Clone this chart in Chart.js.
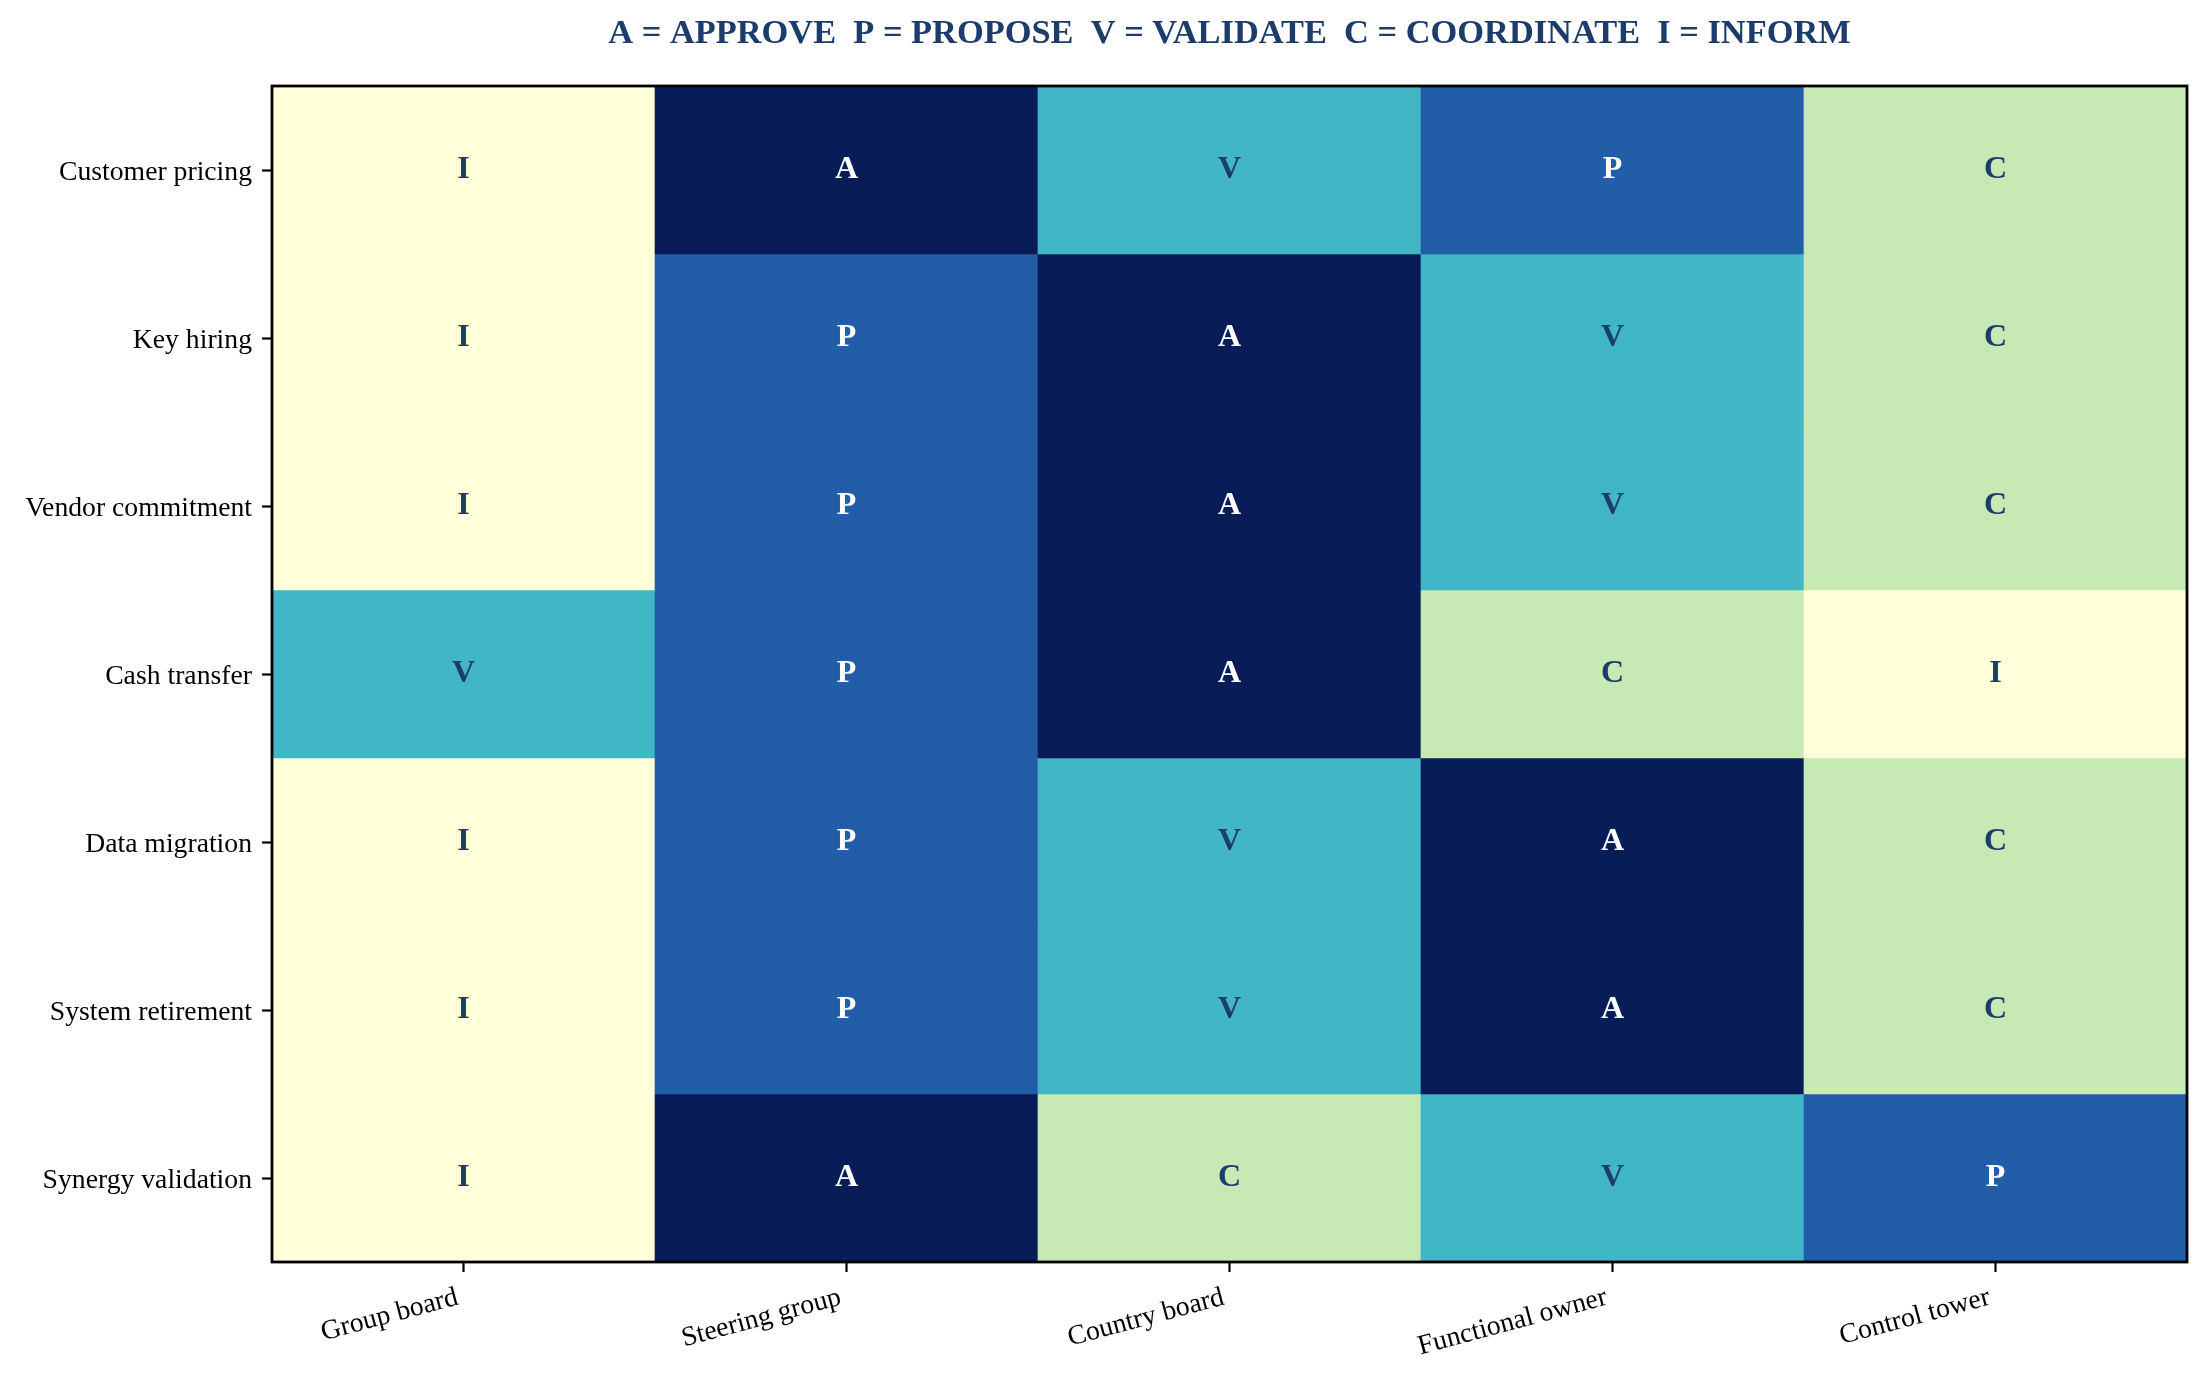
<!DOCTYPE html>
<html>
<head>
<meta charset="utf-8">
<script src="https://cdn.jsdelivr.net/npm/chart.js@4.4.1/dist/chart.umd.min.js"></script>
<style>
  html, body { margin: 0; padding: 0; background: #fff; }
  canvas { display: block; }
</style>
</head>
<body>
<canvas id="raciChart" width="2209" height="1383"></canvas>
<script>
// Decisions (rows, top to bottom) and actors (columns)
const decisions = ['Customer pricing', 'Key hiring', 'Vendor commitment', 'Cash transfer',
                   'Data migration', 'System retirement', 'Synergy validation'];
const actors = ['Group board', 'Steering group', 'Country board', 'Functional owner', 'Control tower'];

// Role letter of each actor for each decision
const customerPricing   = ['I', 'A', 'V', 'P', 'C'];
const keyHiring         = ['I', 'P', 'A', 'V', 'C'];
const vendorCommitment  = ['I', 'P', 'A', 'V', 'C'];
const cashTransfer      = ['V', 'P', 'A', 'C', 'I'];
const dataMigration     = ['I', 'P', 'V', 'A', 'C'];
const systemRetirement  = ['I', 'P', 'V', 'A', 'C'];
const synergyValidation = ['I', 'A', 'C', 'V', 'P'];
const roleRows = [customerPricing, keyHiring, vendorCommitment, cashTransfer,
                  dataMigration, systemRetirement, synergyValidation];

const legendTitle = 'A = APPROVE  P = PROPOSE  V = VALIDATE  C = COORDINATE  I = INFORM';

// Role colours (YlGnBu steps) and the letter colour on top of them
const roleColors = { I: '#ffffd9', C: '#c7e9b4', V: '#41b6c4', P: '#225ea8', A: '#081d58' };
const letterColors = { I: '#1c3c6c', C: '#1c3c6c', V: '#1c3c6c', P: '#ffffff', A: '#ffffff' };
const navy = '#1c3c6c';
const serif = "'Liberation Serif', 'Times New Roman', serif";

// Each row is one stacked dataset, every cell spans one unit
const datasets = decisions.map((name, i) => ({
    label: name,
    data: actors.map(() => 1),
    backgroundColor: roleRows[i].map(r => roleColors[r]),
    borderWidth: 0,
    barPercentage: 1,
    categoryPercentage: 1
}));

// Writes the role letter in the middle of each cell
const cellLetters = {
    id: 'cellLetters',
    afterDatasetsDraw(chart) {
        const c = chart.ctx;
        c.save();
        c.font = 'bold 32px ' + serif;
        c.textAlign = 'center';
        c.textBaseline = 'middle';
        chart.data.datasets.forEach((ds, i) => {
            chart.getDatasetMeta(i).data.forEach((bar, j) => {
                const role = roleRows[i][j];
                const p = bar.getCenterPoint();
                c.fillStyle = letterColors[role];
                c.fillText(role, p.x, p.y);
            });
        });
        c.restore();
    }
};

// Black frame round the plot area, title centred over it
const frame = {
    id: 'frame',
    afterDraw(chart) {
        const a = chart.chartArea;
        const c = chart.ctx;
        c.save();
        c.strokeStyle = '#000';
        c.lineWidth = 2.8;
        c.strokeRect(a.left, a.top, a.right - a.left, a.bottom - a.top);
        c.fillStyle = navy;
        c.font = 'bold 34.4px ' + serif;
        c.textAlign = 'center';
        c.textBaseline = 'middle';
        c.fillText(legendTitle, (a.left + a.right) / 2, 34);
        c.restore();
    }
};

new Chart(document.getElementById('raciChart').getContext('2d'), {
    type: 'bar',
    data: { labels: actors, datasets: datasets },
    plugins: [cellLetters, frame],
    options: {
        responsive: false,
        animation: false,
        devicePixelRatio: 1,
        layout: { padding: { left: 0, right: 22, top: 86, bottom: 0 } },
        plugins: {
            legend: { display: false },
            tooltip: { enabled: false },
            title: { display: false }
        },
        scales: {
            x: {
                stacked: true,
                grid: {
                    offset: false,
                    drawOnChartArea: false,
                    drawTicks: true,
                    tickLength: 10,
                    tickWidth: 2.2,
                    tickColor: '#000'
                },
                border: { display: false },
                ticks: {
                    color: '#000',
                    font: { family: serif, size: 27.7 },
                    minRotation: 15,
                    maxRotation: 15,
                    autoSkip: false,
                    padding: 9,
                    labelOffset: -6
                },
                afterFit(scale) { scale.height = 121; }
            },
            y: {
                stacked: true,
                min: 0,
                max: 7,
                reverse: true,
                afterBuildTicks(scale) {
                    scale.ticks = decisions.map((d, i) => ({ value: i + 0.5 }));
                },
                grid: {
                    drawOnChartArea: false,
                    drawTicks: true,
                    tickLength: 10,
                    tickWidth: 2.2,
                    tickColor: '#000'
                },
                border: { display: false },
                ticks: {
                    color: '#000',
                    font: { family: serif, size: 27.7 },
                    padding: 10,
                    labelOffset: 3,
                    autoSkip: false,
                    callback: (value, index) => decisions[index]
                },
                afterFit(scale) { scale.width = 272; }
            }
        }
    }
});
</script>
</body>
</html>
